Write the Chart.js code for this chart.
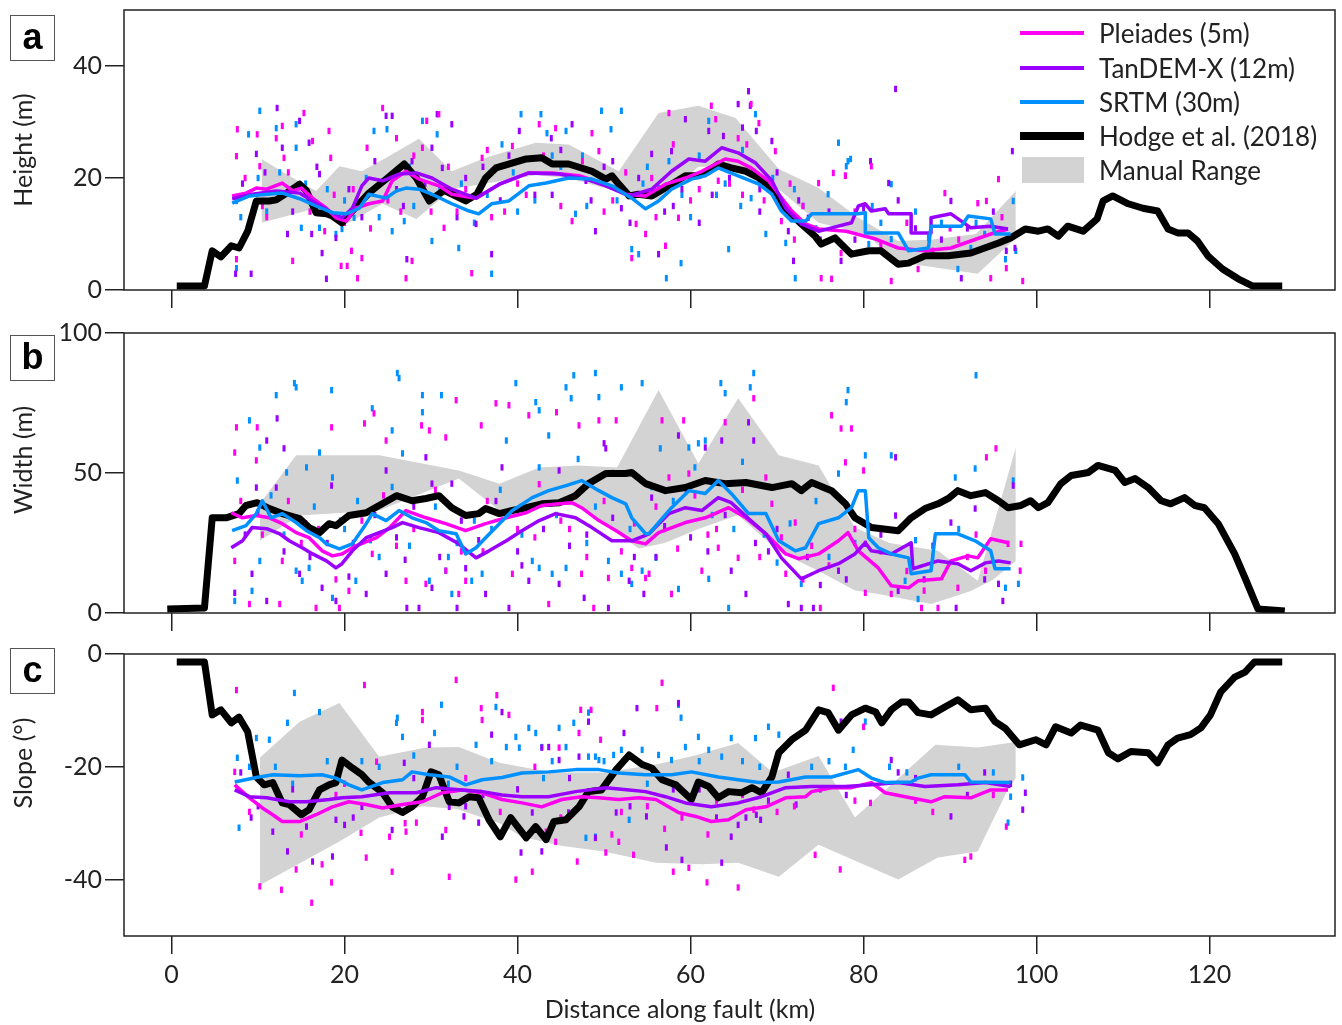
<!DOCTYPE html>
<html>
<head>
<meta charset="utf-8">
<script src="https://cdn.jsdelivr.net/npm/chart.js@4.4.0/dist/chart.umd.min.js"></script>
<style>
  body { margin: 0; background: #fff; }
  #wrap { position: relative; width: 1342px; height: 1025px; font-family: Lato, "Open Sans", sans-serif; color: #222; }
  canvas { position: absolute; left: 0; }
  .tag { position: absolute; left: 10px; width: 43px; height: 44px; border: 1.5px solid #555;
         font: bold 36px "Liberation Sans", Arial, sans-serif; text-align: center; line-height: 42px; color: #000; }
  .ytitle { position: absolute; font-size: 25px; white-space: nowrap; transform: translate(-50%, -50%) rotate(-90deg); }
  .xtitle { position: absolute; font-size: 25px; white-space: nowrap; transform: translate(-50%, -50%); }
  .leg { position: absolute; left: 1020px; font-size: 26px; }
  .leg span { position: absolute; left: 79px; top: -16px; white-space: nowrap; }
  .leg i { position: absolute; left: 0; width: 64px; }
</style>
</head>
<body>
<div id="wrap">
  <canvas id="panelA" width="1342" height="320" style="top:0"></canvas>
  <canvas id="panelB" width="1342" height="320" style="top:320px"></canvas>
  <canvas id="panelC" width="1342" height="385" style="top:640px"></canvas>

  <div class="tag" style="top:15px">a</div>
  <div class="tag" style="top:335px">b</div>
  <div class="tag" style="top:648px">c</div>

  <div class="ytitle" style="left:22px; top:150px">Height (m)</div>
  <div class="ytitle" style="left:22px; top:460px">Width (m)</div>
  <div class="ytitle" style="left:22px; top:763px">Slope (°)</div>
  <div class="xtitle" style="left:680px; top:1008px">Distance along fault (km)</div>

  <div class="leg" style="top:33px"><i style="height:4px; top:-2px; background:#ff00f0"></i><span>Pleiades (5m)</span></div>
  <div class="leg" style="top:68px"><i style="height:4px; top:-2px; background:#9a00ff"></i><span>TanDEM-X (12m)</span></div>
  <div class="leg" style="top:102px"><i style="height:4px; top:-2px; background:#0090ff"></i><span>SRTM (30m)</span></div>
  <div class="leg" style="top:136px"><i style="height:8px; top:-4px; background:#000"></i><span>Hodge et al. (2018)</span></div>
  <div class="leg" style="top:170px"><i style="height:26px; top:-13px; left:2px; width:62px; background:#d3d3d3"></i><span>Manual Range</span></div>
</div>

<script>
// distance along fault (km) -> value, one list per series

const xTicks = [0, 20, 40, 60, 80, 100, 120];
const heightTicks = [0, 20, 40];
const widthTicks = [0, 50, 100];
const slopeTicks = [0, -20, -40];

// ---- height (m) ----
const hodgeHeight = [[0.6,0.7],[3.8,0.7],[4.7,7.0],[5.7,5.9],[6.9,7.9],[7.8,7.5],[8.8,10.5],[9.8,15.9],[11.3,15.9],[12.1,16.1],[13.3,17.3],[14.8,18.9],[15.6,17.7],[16.7,13.8],[17.9,13.6],[18.6,13.2],[19.7,12.0],[20.9,14.1],[22.8,17.3],[24.8,19.8],[26.9,22.5],[28.3,20.0],[29.8,15.9],[31.5,17.8],[34,15.9],[35.3,17.1],[36.3,20],[37.5,21.8],[41,23.4],[42.8,23.6],[44,22.5],[45.9,22.5],[48.6,21.2],[50.2,19.8],[50.9,20.4],[51.7,18.9],[52.9,16.8],[54,17.1],[55.5,16.8],[57.8,18.9],[59.4,20.4],[60.9,20.4],[62.1,21.2],[63.2,22.5],[64.7,21.8],[66.4,21.2],[67.9,20],[69.4,17.7],[71,14.6],[72.8,11.8],[74.4,9.6],[75.1,8.2],[76.7,9.3],[78.6,6.4],[80.6,7],[82,7],[84,4.6],[85.2,4.8],[87.1,6.1],[89.8,6.1],[92.4,6.6],[95.6,8.4],[97,9.3],[98.7,10.9],[100.2,10.5],[101.3,10.9],[102.5,9.6],[103.6,11.4],[105.4,10.5],[107,12.7],[107.7,15.9],[108.8,16.8],[110.6,15.4],[112.3,14.6],[114,14.1],[115.2,10.9],[116.3,10.2],[117.5,10.2],[118.6,8.75],[119.8,6.1],[121.5,3.75],[123.3,2],[125,0.7],[128.4,0.7]];
const pleiadesHeight = [[7,16.8],[8.6,17.3],[9.8,18.2],[11,18],[12.8,19.1],[14,17.7],[15,18.2],[16.3,16.4],[17.9,14.6],[19,12.9],[20.2,12.3],[21.3,14.6],[22.8,15.4],[24.4,15.9],[25.5,19.5],[27.1,21.2],[28.6,19.8],[30.9,18.6],[32.4,17.1],[35.2,16.4],[37.9,18.9],[41.3,20.9],[44,20.9],[47.1,20.4],[50.2,18.9],[52.5,17.1],[54.8,16.8],[57.1,18.9],[59.4,20],[61.3,21.2],[64,23.4],[65.5,23],[67,21.8],[69,19.5],[70.2,17.1],[71.7,14.1],[73.3,11.8],[74.8,10.9],[78,10.5],[81.4,9.1],[84,7.5],[87.1,7],[90.1,7.5],[92.4,8.75],[94.7,10],[96.7,10.9]];
const tandemHeight = [[7,16.3],[9.3,17.1],[12.1,17.7],[14.8,17.3],[16.3,15.9],[18.2,14.1],[19.7,12.9],[20.9,14.6],[22,18.6],[22.8,20],[24.4,19.5],[26.3,20.7],[28.3,20.9],[30.1,20],[32.4,18],[35.2,16.4],[37.9,18.9],[41.3,20.9],[44.8,20.7],[47.9,19.8],[50.2,18.6],[52.9,16.8],[55.5,18],[57.8,21.2],[59.8,23.4],[61.7,23],[63.6,25.4],[65.5,24.5],[67.5,22.7],[69.4,19.5],[71,14.6],[72.8,11.8],[74.8,10.5],[76.3,11.1],[78.6,12],[79.4,15],[80.2,15.4],[80.9,14.1],[82.5,14.5],[82.9,13.6],[85.5,13.6],[85.5,10.2],[87.8,10.2],[87.8,12.9],[90.1,13.6],[91.3,12.3],[92.4,11.1],[94.7,11.4],[96.7,10.9]];
const srtmHeight = [[7,15.5],[9,16.8],[11,17.1],[12.8,17.3],[14.8,16.3],[16.7,15],[18.6,13.8],[20.2,13.6],[21.7,14.6],[22.8,17.1],[24.8,16.4],[26,17.7],[27.1,18.2],[28.6,18],[30.1,17.1],[32.4,15.4],[34.4,14.1],[35.5,13.6],[37,15.4],[39,15.9],[41.3,18.6],[43.3,19.1],[45.9,20],[48.6,19.8],[50.9,18.6],[53.2,16.4],[54.8,14.5],[56.3,15.9],[57.8,18],[60.1,19.8],[61.7,20.4],[63.2,21.8],[65.5,20.4],[67.9,18.9],[69.4,17.1],[70.5,14.1],[71.7,12.3],[73.3,12.3],[74,13.6],[76.7,13.6],[79.4,13.6],[80.2,13.8],[80.2,10.2],[84,10.2],[85.2,7],[87.5,7.5],[87.8,11.4],[91.3,11.4],[92.1,13.2],[94.7,12.7],[95.2,10],[97,10]];
const rangeHeightUpper = [[10.4,23.4],[13.6,20.4],[16.7,17.7],[19.4,22.1],[22,21.2],[24.8,23.6],[28.6,27],[32.4,21.2],[36.3,23.6],[42.1,26.3],[45.9,26],[51.7,21.2],[56.3,31.6],[60.9,32.9],[65.2,30.7],[70.2,21.6],[74.8,18.2],[79.4,12.9],[84,8.75],[88,9],[93,10],[97.6,17.7]];
const rangeHeightLower = [[10.4,12],[16.7,14.6],[20.2,11.8],[24.4,15.4],[28.3,12.7],[32.4,18],[36.3,19],[42.1,20.5],[45.9,20],[51.7,17.5],[56.3,16],[60.9,22],[65.2,22],[70.2,18],[74.8,12],[80.2,10],[84,5],[93.2,2.9],[97.6,9.3]];
const pleiadesHeightDots = [[7.6,28.7],[7.5,23.9],[7.5,5.5],[9.9,27.8],[10.2,22.1],[12.1,27.1],[12.8,29.3],[13,23.6],[14,5.2],[15.3,31.6],[16.3,26.6],[17.7,10.5],[18.2,28.4],[18.4,23.6],[19.6,4.3],[20.3,4.3],[20.8,7],[21.5,2.1],[22,5.7],[22.6,25.4],[24.4,32.5],[26,27.1],[27.1,2.1],[27.8,5.2],[29.5,30.2],[30.9,31.4],[29,25.4],[31.5,11.1],[34.7,3],[35.9,23.6],[39.4,25.7],[42.5,29.6],[44.4,28.9],[46.3,12.3],[48.6,28],[49.4,24.8],[53.2,5.7],[53.7,11.8],[54.8,10],[57.5,31.6],[57.1,7.9],[58.6,12.9],[62.4,32.9],[62.9,30.5],[63.2,19.5],[65.5,27.1],[67,33.2],[67.9,29.8],[69.8,24.8],[70.5,12.3],[73.3,11.1],[75.1,2.1],[76.3,2],[76.5,20.9],[77.9,20.4],[77.4,6.6],[74.8,19.1],[80.9,22.1],[83.2,1.6],[86.3,3.75],[89.4,17.3],[93.2,15.5],[94.2,15.9],[95.6,19.8],[94.7,2.1],[98.4,1.6],[96.5,3.9],[11,13],[20,12],[25,16],[33,14],[37,13],[40,19],[45,15],[50,14],[56,13],[60,16],[66,17],[72,9],[82,8],[88,7],[91,9],[8.5,20],[10.5,15],[13.5,21],[16,14],[18.8,17],[21,18],[23,11],[26.5,14],[28,24],[30,14],[32,22],[34,18],[36.5,25],[38.5,14],[41,17],[43,24],[47.5,23],[51,16],[52.5,21],[55.5,20],[58,26],[61,18],[64.5,19],[66.5,26],[68.5,16],[71.5,19],[73,15],[79,14],[85,12],[90,11],[96,13]];
const tandemHeightDots = [[7.4,2.9],[9.2,2.9],[9.8,24.3],[12.2,32.5],[12.8,25.4],[14.8,30.2],[15.9,26.3],[17.1,20.7],[17.4,6.6],[17.9,2],[24.8,31.1],[25.5,31.1],[27.2,5.5],[27.8,23],[30.7,31.4],[31.3,21.8],[13.4,10],[16.2,10],[19,9.3],[30.1,25.4],[32.4,29.6],[35.2,11.8],[37,6.4],[40.2,28.4],[43.9,27.1],[46.3,29.6],[47.9,19.5],[49,10.5],[52,14.6],[55.5,24.3],[56.3,6.4],[57.8,24.8],[59.4,30.5],[60.9,20.4],[62.1,28.4],[63.8,27.5],[65.5,33.2],[66.7,35.5],[66.9,32.9],[67.6,28.4],[69.4,26.6],[71.3,10.5],[73.6,12.9],[77.4,5.2],[80,14.6],[80.8,23],[77.9,20.4],[82.9,19.1],[90.1,15.9],[91.3,2.1],[96.5,7],[97.5,7.5],[71.9,5.2],[97.2,24.8],[83.7,35.9],[22,13],[26,18],[34,20],[38,16],[44,17],[50,22],[53,12],[58,15],[61,12],[68,14],[75,9],[86,11],[92,11],[8.2,19],[10.8,21],[14,14],[16.8,22],[20.5,18],[23.5,23],[26.8,15],[29.3,19],[33,13],[36,22],[39,24],[42,17],[45,25],[48.5,16],[51,23],[54,20],[57,14],[59,18],[62.5,17],[64.5,20],[66,29],[68,18],[70,21],[72.5,16],[76,14],[79,9],[84,16],[89,9],[95,14]];
const srtmHeightDots = [[7.5,15.9],[7.5,3.9],[8.9,27.8],[10.2,32],[12.1,28.9],[14.4,29.6],[14.4,25.4],[15,11.1],[17.1,11.1],[19,10],[19.7,10.9],[21.1,12.9],[23.4,28.4],[24.9,28.7],[25.5,10.5],[26.9,12.3],[29,30.2],[30.1,8.75],[30.7,27.8],[33.2,7.5],[37,2.9],[38.2,26],[40.4,31.4],[42.7,31.4],[43.4,28],[45.6,28.4],[46.7,13.6],[49.7,32],[50.8,28.7],[52,32],[53.2,7.3],[54,6.4],[56.3,18.2],[57.2,2.1],[58.9,4.8],[62.1,30.2],[64.4,7.3],[67,16.4],[67.5,31.4],[68.7,10],[71,8.4],[72.1,2.1],[77.1,26.3],[78,22.1],[78.5,23.4],[78.2,23],[75.9,17.1],[83.2,18.9],[80.6,8.2],[83.2,9.1],[87.5,9.3],[90.9,3.75],[92.4,7.5],[96.4,5.5],[97.3,15.9],[97.6,7],[11,14],[20,16],[28,15],[35,12],[40,14],[44,24],[48,15],[55,22],[60,13],[63,17],[66,25],[73,15],[82,12],[89,12],[94,10],[8,13],[10,20],[12.5,21],[15.5,19],[18,18],[22.5,20],[24,13],[27.5,22],[31,18],[33.5,19],[36.5,17],[39.5,21],[42,16],[45,22],[47.5,24],[51.5,16],[54.5,19],[57.5,23],[59,17],[61,24],[64,19],[65.8,15],[69.5,20],[72,18],[74.5,11],[81,15],[86,14],[93,12]];

// ---- width (m) ----
const hodgeWidth = [[-0.5,1.4],[3.8,1.8],[4.7,34],[6.3,34],[7.8,35.5],[8.6,38.4],[9.9,39.4],[11.3,37.3],[12.8,35.5],[14.8,33.7],[15.9,30.5],[17.1,28.7],[18.2,31.9],[19,31.2],[20.5,34.8],[22.5,35.8],[24,38.4],[26,41.9],[27.8,40.1],[29.4,40.9],[30.9,41.9],[32.4,37.6],[34,34.8],[35.5,35.5],[36.3,37.3],[37.9,35.5],[39.4,36.6],[41,37.6],[42.8,39],[44.8,39.4],[46.7,41.9],[48.2,46.2],[50.2,49.8],[52.5,49.8],[53.2,50.2],[54.8,46.2],[57.1,43.7],[59.4,44.8],[61.7,47.3],[64,46.2],[66.4,46.6],[69.4,44.8],[71.7,46.2],[72.8,43.7],[74,46.6],[76.3,43.7],[77.9,39],[79,34],[80.9,30.5],[84,29.4],[85.5,34],[87.1,37.3],[88.6,39],[89.8,40.9],[90.9,43.7],[92.4,41.9],[94.1,43],[95.6,40.1],[96.7,37.6],[98.2,38.4],[99.3,40.1],[100.2,37.6],[101.3,39.4],[102.8,46.2],[104,49.1],[106,50.2],[107.1,52.7],[109.1,50.9],[110.2,46.6],[111.4,48],[112.9,44.8],[114.4,40.1],[115.5,39],[117.1,41.2],[118.3,38.4],[119.4,37.6],[121,31.9],[122.9,21.1],[124.1,12.5],[125.6,1.4],[128.7,0.7]];
const pleiadesWidth = [[6.9,35.8],[8.2,34],[9.8,34.8],[11.3,34],[12.8,31.9],[14.4,28.7],[15.9,26.9],[17.4,22.2],[18.6,20.4],[19.7,21.1],[21.3,24],[23.7,26.9],[25.2,30.5],[27.1,36.6],[29.4,34],[31.7,31.9],[34,29.4],[36.3,31.9],[38.7,34],[41,35.8],[42.8,38.4],[44.8,39],[46.3,39.4],[47.4,37.6],[49.4,33],[51.4,29.4],[53.2,25.8],[54.8,24.7],[56.3,28.7],[59.4,32.3],[61.7,34],[64.4,37.6],[66.4,34],[68.7,28.3],[71,21.1],[72.5,19.4],[74.8,21.1],[77.1,25.8],[78.2,28.7],[79.4,22.2],[81.7,16.1],[83.2,9.7],[85.2,9],[86.3,11.5],[89,12.2],[90.1,18.6],[92.1,20.4],[93.2,19.7],[94.7,26.5],[96.7,25.1]];
const tandemWidth = [[6.9,23.3],[8.2,25.8],[9.3,30.5],[11,30.1],[12.5,28.3],[13.6,25.8],[15.1,23.3],[16.3,21.1],[17.9,18.6],[19,16.1],[19.7,17.6],[20.9,22.2],[22.5,26.9],[24,28.7],[25.5,30.5],[26.7,32.3],[28.6,30.5],[30.9,28.7],[33.2,24.7],[35.2,19.7],[36.7,22.2],[38.7,25.8],[40.5,29.4],[42.5,33],[44.4,35.5],[46.7,34],[48.6,30.5],[50.9,25.8],[53.2,25.8],[55.2,28.3],[57.5,35.5],[59.4,37.6],[61.3,36.6],[63.2,41.2],[64.7,39.4],[66.7,33.7],[68.7,28.3],[70.5,19.7],[72.8,12.2],[74.8,15.1],[77.1,17.6],[79,21.1],[80.2,25.1],[80.9,22.2],[83.2,21.1],[85.5,25.1],[85.7,15.8],[88.6,18.6],[90.9,17.6],[92.4,15.1],[94.1,17.9],[95.6,18.6],[97,17.9]];
const srtmWidth = [[7,29.4],[8.6,31.2],[9.8,35.5],[10.5,40.1],[11.5,34],[12.8,35.5],[14.4,32.3],[15.6,29.4],[17.1,26.9],[17.9,24.7],[19.4,22.9],[20.9,24.7],[22.5,31.9],[23.2,35.5],[24.8,33],[26.3,36.6],[27.8,34],[29.4,32.3],[30.9,29.4],[32.9,28.3],[34,21.1],[35.2,23.3],[36.3,26.9],[37.9,31.9],[39.4,36.6],[41.7,41.2],[43.6,43.7],[45.6,45.5],[47.4,47.3],[49.4,43.7],[50.9,41.2],[52.5,39],[53.2,34],[54.8,28.3],[55.2,28.3],[57.8,37.6],[59.8,43.7],[61.7,42.7],[63.2,47.3],[64.7,42.7],[66.7,35.5],[68.7,35.5],[70.2,25.8],[72.1,22.2],[73.3,23.3],[74.8,31.9],[77.1,34],[78.6,37.6],[79.4,43.7],[80.2,43.7],[80.6,26.9],[81.7,23.3],[83.2,21.1],[85.2,19.7],[85.5,14],[87.8,15.1],[88.3,28.3],[90.9,28.3],[92.9,25.8],[94.7,22.2],[95.2,15.8],[97,15.8]];
const rangeWidthUpper = [[10.2,39],[14.4,56.3],[24,56.3],[33.2,50.9],[37.9,46.2],[42.5,52],[47.1,52.7],[51.5,52],[56.3,79.6],[60.9,53.4],[65.5,76.7],[70.2,56.3],[74.8,52.7],[79,30.5],[83,25],[88.6,22.2],[93.2,11.5],[97.6,59.1]];
const rangeWidthLower = [[10.2,25.8],[14.8,34.8],[24,36.6],[33.2,48],[37.9,36.6],[42.5,40],[47.1,38],[54,23],[57,25],[60.9,30],[65.5,35],[70.2,22],[74.8,15],[79,8],[81.7,6.8],[87.8,3.2],[92.4,7.9],[95,12],[97.6,18.6]];
const pleiadesWidthDots = [[7.3,57.3],[7.5,66.3],[9.9,66.3],[9.8,54.5],[18.5,66.3],[22.3,67.7],[23.4,71.3],[24.8,61.6],[28.9,67],[29.8,65.2],[31.7,62.7],[32.9,76],[35.8,67],[37.5,74.9],[39,74.2],[41.3,70.6],[44.5,71.7],[47.1,67],[49.4,68.8],[51.4,68.8],[7.3,18.6],[9,3.2],[12.8,18.6],[12.5,3.2],[16.7,1.8],[19.4,1.8],[20.5,7.9],[23.2,21.1],[27.1,11.5],[29.4,10.4],[31.7,15.1],[33.2,6.8],[34,11.5],[39.4,14],[43.6,3.2],[47.4,14],[48.8,1.8],[50.5,12.5],[53.2,16.1],[54.8,12.5],[56.7,68.8],[59.2,68.8],[64,68.1],[67.3,76.7],[76.3,70.6],[77.4,65.9],[78.6,65.9],[77.9,53.8],[80,50.9],[95.3,58.8],[94.2,55.6],[57.5,48.4],[59.8,49.8],[68.7,48.4],[69.4,39],[72.1,32.3],[55.2,14],[57.8,6.8],[61.3,15.1],[63.2,23.3],[65.5,19.7],[71,14],[75,1.8],[80.2,7.2],[83.2,6.8],[86.7,1.8],[88.6,1.8],[90.9,9],[94.1,15.1],[96.7,24.7],[98.1,15.1],[98.2,24.7],[15,25],[26,24],[36,22],[42,27],[46,30],[52,22],[62,28],[74,24],[85,15],[92,20],[8,40],[10.5,28],[13.5,40],[17,30],[19,12],[22,33],[24.5,42],[28,30],[30.5,44],[33.5,22],[36.5,40],[40,30],[42.5,46],[45,33],[48,20],[50,40],[53.5,32],[56,38],[58.5,23],[60.5,42],[63,30],[66,44],[68,20],[70.5,27],[73,12],[76,17],[79,30],[82,22],[87,8],[93,28]];
const tandemWidthDots = [[12.2,69.5],[11,61.6],[13,58.8],[9.8,44.8],[12.1,44.8],[18.5,45.5],[24.8,50.9],[29.4,55.6],[30.1,46.2],[32.4,46.2],[38.2,52],[44.8,50.9],[50,60.6],[50.2,58.8],[7.3,7.2],[9.3,14],[11,4.3],[14.8,14],[17.4,9],[19,4.3],[22.5,6.8],[24.8,14],[27.2,1.8],[28.6,1.8],[30.1,9],[33,1.8],[36.3,6.8],[39,1.8],[41.3,11.5],[44.8,10.4],[47.7,5.4],[50.5,1.8],[52.9,11.5],[54.6,6.8],[58.6,63.4],[61.7,59.1],[63.6,61.6],[66.7,68.1],[67.3,61.6],[55.5,41.2],[64.7,15.1],[66.4,6.8],[71.3,3.2],[72.8,1.8],[74.2,1.8],[83.7,55.6],[83.7,34.8],[90.1,32.3],[92.9,37.3],[97.3,45.5],[96.1,4.3],[95.6,10.4],[90.7,1.8],[84,7.9],[77.1,15.1],[80.2,24.7],[16,20],[21,25],[27,19],[34,16],[40,22],[46,24],[56,20],[60,27],[69,22],[75,10],[87,12],[8.5,28],[10,36],[13,22],[15.5,32],[18,25],[20.5,13],[23.5,35],[26,27],[28,38],[31,20],[33.5,33],[35.5,26],[37.5,40],[40.5,17],[43,30],[45.5,40],[48,28],[51,34],[53.5,20],[57,31],[59.5,44],[62,22],[64,35],[67.5,25],[70,30],[73.5,20],[78,12],[82,28],[88,24],[94,12]];
const srtmWidthDots = [[9,68.8],[12.1,77.8],[14.2,82.1],[14.4,80.6],[10.2,59.1],[7.6,47.3],[13.3,50.2],[15.6,52],[17.1,57.3],[18.5,79.6],[18.6,48.4],[14.4,15.1],[15.1,11.5],[15.9,16.1],[18.6,5.4],[21.3,11.5],[23.2,73.1],[25.5,65.2],[26.1,85.7],[26.3,83.9],[26.7,57],[29,77.8],[29,71.7],[31.2,77.8],[29.8,11.5],[31.7,15.1],[32.4,6.8],[34.7,11.5],[35.9,14],[38.7,61.6],[39.8,82.1],[42.1,75.3],[42.5,72.4],[43.6,63.4],[45.6,80.6],[46.5,84.9],[46.2,76.7],[49,85.7],[49.4,77.1],[52,80.6],[54.4,82.1],[41.7,18.6],[42.5,16.1],[44,14],[45.6,16.1],[50.5,18.6],[52,14],[53.2,10.4],[54.4,15.1],[7.3,4.3],[9.3,7.9],[10.2,18.6],[56.5,58.8],[63.5,82.1],[64,78.5],[66.9,80.6],[67.3,85.7],[59.8,59.1],[60.9,60.6],[61.7,61.6],[78.2,79.6],[78,75.3],[80.2,56.3],[83.2,56.3],[93,84.9],[92.9,51.6],[90.6,48.4],[77.1,49.8],[64.4,1.8],[62.1,12.2],[58.6,8.6],[56,19.7],[72.8,10.4],[84.8,11.5],[86.3,5],[96.4,9],[97.9,10.4],[97.3,47.3],[20,30],[24,20],[33,25],[37,30],[48,25],[57,30],[65,30],[70,18],[76,20],[88,20],[8,36],[11.5,42],[13,28],[16.5,38],[19.5,33],[21.5,40],[23,26],[25.5,45],[27.5,24],[30.5,38],[32,20],[35,33],[38,44],[40.5,28],[42.5,52],[44.5,35],[47,55],[49,38],[51,50],[53,30],[55.5,45],[58,40],[60.5,52],[62.5,35],[66,54],[68.5,28],[71.5,32],[74.5,40],[79,25],[86,26],[91,30]];

// ---- slope (degrees) ----
const hodgeSlope = [[0.6,-1.4],[3.8,-1.4],[4.7,-10.8],[5.7,-9.9],[6.9,-12.2],[7.8,-11.2],[8.8,-13.8],[9.8,-21.8],[10.7,-23.2],[11.7,-22.8],[12.8,-26.4],[13.6,-26.7],[15,-28.5],[15.9,-27.6],[17.1,-24.1],[18.2,-23.2],[19,-22.8],[19.7,-18.8],[20.9,-20.2],[22,-21.4],[22.8,-22.7],[24.4,-24.6],[25.5,-27.1],[26.7,-28.1],[27.8,-27.1],[29,-25.3],[30,-20.9],[30.9,-21.4],[32.1,-26.2],[33.2,-26.4],[34.4,-25.3],[35.5,-25.5],[36.7,-29.4],[38,-32.4],[39.2,-29],[41,-32.6],[42.1,-30.6],[43.3,-32.9],[44.2,-29.7],[45.6,-29.4],[47.1,-27.1],[48.2,-24.4],[49.7,-24.1],[51.4,-20.5],[52.9,-17.9],[54.4,-19.6],[55.5,-20.2],[56.7,-22.3],[58.3,-23.2],[60.1,-25.8],[60.9,-22.7],[62.1,-23.5],[63.2,-25.5],[64.4,-24.4],[65.9,-24.6],[67.1,-23.7],[68.2,-24.6],[69.4,-21.8],[70.2,-17.5],[71.7,-15.2],[73.3,-13.5],[74.8,-9.9],[75.9,-10.4],[77.1,-13.5],[78.6,-10.8],[80.2,-9.6],[81.4,-10.3],[82.1,-12.2],[83.2,-9.9],[84.4,-8.5],[85.2,-8.5],[86.3,-10.4],[87.8,-10.8],[89.4,-9.4],[90.9,-8.1],[92.4,-9.9],[94.1,-9.6],[95.2,-12],[96.4,-13.2],[98,-16.1],[99.9,-15.2],[101.1,-16.1],[102.2,-12.9],[104,-14],[105.1,-12.6],[107.1,-13.5],[108.3,-17.5],[109.4,-18.6],[110.9,-17.3],[112.9,-17.5],[114,-19.3],[115.2,-16.1],[116.3,-14.9],[117.8,-14.3],[119,-13.1],[120.1,-10.8],[121.3,-6.7],[122.9,-4.1],[124.1,-3.2],[125.2,-1.4],[128.4,-1.4]];
const pleiadesSlope = [[7.3,-23.2],[9,-25.5],[10.5,-27.3],[11.7,-28.5],[12.8,-29.7],[14.8,-29.7],[16.7,-28.5],[18.6,-27.1],[20.5,-26.2],[22.5,-26.7],[24.4,-27.3],[26.7,-26.7],[29,-26.2],[31.3,-24.6],[33.6,-24.1],[35.9,-24.6],[38.2,-25.8],[40.5,-26.4],[42.8,-27.1],[45.1,-25.8],[47.4,-25.3],[49.4,-25.5],[51.7,-25.8],[54,-25.5],[56,-25.8],[58.6,-28.1],[60.6,-28.8],[62.4,-29.7],[64.4,-29.4],[66.4,-27.6],[68.7,-27.1],[71,-25.5],[73.3,-25.3],[74,-24.4],[76.3,-23.7],[78.6,-23.7],[80.9,-22.8],[82.5,-24.6],[84.8,-25.3],[87.8,-26.2],[89.4,-25.3],[92.4,-25.5],[94.7,-24.1],[96.7,-24.1]];
const tandemSlope = [[7.3,-24.1],[9,-25.3],[11,-25.5],[13.6,-26.2],[15.6,-26.2],[18.2,-25.8],[19.7,-25.5],[22,-25.3],[25.2,-24.6],[28.3,-24.6],[30.6,-23.7],[33.6,-24.1],[35.9,-24.4],[38.2,-25],[40.5,-25.3],[43.6,-25.3],[46.7,-24.4],[50.2,-23.7],[52.9,-24.1],[54.8,-24.4],[57.1,-25.3],[59.4,-26.4],[62.4,-27.1],[65.5,-26.4],[68.2,-25.3],[71,-23.7],[74,-23.5],[77.9,-23.5],[80.9,-23.2],[84,-22.8],[87.1,-23.5],[90.9,-23.2],[94.1,-22.8],[97,-23.5]];
const srtmSlope = [[7.3,-22.7],[9.8,-21.9],[11.7,-21.4],[14.8,-21.6],[17.4,-21.4],[19,-22],[20.5,-23.2],[22,-24.1],[24.4,-22.8],[26.7,-22.3],[27.8,-20.9],[29.8,-21.4],[32.1,-21.8],[34,-23.2],[35.9,-22.3],[38.2,-21.9],[40.5,-21.1],[43.6,-20.9],[46.7,-20.5],[49.4,-20.5],[51.7,-21.1],[54.8,-21.4],[57.8,-21.4],[60.1,-20.9],[63.2,-21.8],[65.5,-22.3],[67.9,-22.8],[70.2,-22.7],[73.3,-21.8],[76.3,-21.8],[79.4,-20.5],[80.9,-22],[82.5,-22.8],[85.5,-22.7],[86.3,-22],[87.8,-21.4],[91.7,-21.4],[92.4,-22.7],[97,-22.8]];
const rangeSlopeUpper = [[10.2,-18.4],[14.8,-12],[19.4,-8.7],[24,-18.2],[29.4,-16.6],[33.2,-16.5],[37.9,-19.3],[44,-21],[50,-21],[56,-19.6],[60.5,-18],[65.5,-15.8],[69.5,-21],[74.8,-18.1],[79,-29],[88.3,-16.1],[93.2,-16.6],[97.6,-15.6]];
const rangeSlopeLower = [[10.2,-41],[19.7,-33],[24,-29],[29,-27],[33,-27.5],[37.9,-30],[40.5,-32.4],[45,-34],[50,-35],[56,-37],[61.3,-37.3],[65.5,-37],[70.2,-39.5],[74.8,-33.8],[84,-40],[88.6,-36.1],[93.2,-35],[96.5,-24.6],[97.6,-22]];
const pleiadesSlopeDots = [[7.5,-6.4],[7.3,-20.9],[10.2,-41.2],[12.7,-41.8],[16.2,-44.1],[17.4,-37.3],[14.4,-38.2],[18.5,-40.5],[22.3,-5.5],[23.7,-19.1],[21.9,-31.7],[22.5,-36.1],[25.5,-38.6],[27.1,-31.5],[29,-10.3],[29,-11.7],[31.7,-31.2],[32.1,-39.5],[32.9,-4.6],[35.8,-9.6],[35.9,-11.7],[37.6,-7.3],[39,-10.8],[39.8,-40],[41.7,-38.6],[44.8,-16.6],[47.3,-9.9],[48.5,-9.9],[46.9,-36.8],[43.3,-31.5],[44.4,-33.3],[25.2,-32.4],[28.3,-29.9],[47.1,-14],[49.6,-15.2],[50.2,-35.2],[50.9,-32],[51.7,-33.3],[53.4,-35.6],[56.1,-9.6],[56.7,-5.1],[58,-38.6],[59,-29],[59.8,-37.9],[61.9,-40.5],[65.5,-41.4],[67.3,-27.6],[74.4,-35.6],[77.3,-38.2],[76.5,-6],[80,-12.9],[80.8,-26.4],[91.7,-36.5],[92.4,-35.9],[96.5,-30.6],[12,-24],[20,-23],[34,-22],[42,-20],[55,-27],[63,-26],[70,-28],[86,-26],[95,-25],[9,-28],[15,-32],[19,-25],[27,-30],[31,-22],[38,-28],[45,-29],[52,-28],[57,-31],[62,-32],[66,-25],[72,-27],[79,-26],[88,-28]];
const tandemSlopeDots = [[9.2,-29],[11.7,-31.5],[13.4,-35],[16.3,-36.8],[18.6,-35.9],[20,-30.3],[25.5,-31.2],[26.9,-19.3],[29.8,-16.1],[31.3,-32.4],[38.2,-10.3],[37,-14.3],[40.4,-35.2],[42.8,-35],[42.8,-16.6],[43.6,-16.5],[44.8,-18.8],[47.1,-18.2],[49,-32.6],[33.8,-28.8],[35.5,-29.9],[41.7,-28.1],[45.9,-28.1],[32.1,-27.1],[26.3,-27.6],[22,-27.1],[15.6,-30.6],[19,-29.4],[48.2,-12],[51.4,-28.1],[52.3,-14],[53.8,-9.6],[54.9,-28.8],[57.2,-34.3],[58.6,-8.7],[59,-36.5],[63.6,-37],[64.7,-32.4],[65.5,-30.3],[66.4,-29],[67.6,-28.5],[68.1,-29.4],[71.3,-21.4],[72.2,-26.7],[77.4,-12],[83.2,-18.8],[90.1,-28.8],[98.4,-27.6],[98.7,-24.6],[8,-21],[24,-24],[36,-25],[61,-24],[75,-24],[86,-22],[94,-21],[97,-23],[10,-27],[14,-24],[21,-29],[28,-22],[34,-27],[40,-24],[46,-22],[53,-27],[58,-24],[63,-29],[69,-26],[78,-25],[84,-21],[92,-25]];
const srtmSlopeDots = [[7.6,-18.4],[7.8,-30.8],[9.8,-14.9],[11.3,-15.2],[13.4,-12.2],[14.2,-6.9],[17.1,-10.3],[26,-12.2],[26.1,-11.3],[26.7,-14.7],[30.4,-14],[31.2,-9],[35.2,-16.1],[37.5,-9.4],[38.7,-16.5],[39.8,-14.7],[41.3,-13.1],[42.1,-14],[44.8,-13.1],[46.5,-12.2],[48.2,-10.4],[47.9,-32.6],[40.2,-16.6],[42.8,-16.5],[45.6,-16.5],[49,-18.2],[48.2,-18.2],[49.4,-18.8],[51.1,-17.9],[52,-17],[54.4,-17],[56.3,-17.9],[57.8,-18.8],[58.6,-9],[58.9,-11.3],[59.4,-16.5],[60.9,-14.7],[62.1,-17],[63.6,-18.2],[64.7,-14.9],[67.5,-14.9],[69,-12.9],[70.2,-14.3],[49,-32.4],[52.9,-29.4],[77.9,-20],[78.8,-17],[80.2,-12],[96.7,-29.9],[97,-25.3],[98.4,-21.9],[12,-20],[22,-19],[33,-20],[44,-19],[66,-19],[74,-20],[85,-21],[91,-20],[9,-20],[14,-23],[18,-19],[24,-20],[28,-18],[32,-23],[37,-19],[43,-22],[50,-19],[55,-23],[61,-19],[68,-20],[76,-19],[83,-20],[95,-21]];

const MAGENTA = '#ff00f0';
const PURPLE = '#9a00ff';
const BLUE = '#0090ff';
const BLACK = '#000000';
const GREY = '#d3d3d3';
const INK = '#222222';
const tickFont = { family: 'Lato', size: 25 };

const toXY = arr => arr.map(([x, y]) => ({ x, y }));

function rangeSets(upper, lower) {
  return [
    { data: toXY(upper), borderWidth: 0, pointRadius: 0, fill: '+1', backgroundColor: GREY, order: 10 },
    { data: toXY(lower), borderWidth: 0, pointRadius: 0, fill: false, order: 10 }
  ];
}

function dotSet(arr, color) {
  return {
    data: toXY(arr), showLine: false, pointStyle: 'line', pointRotation: 90,
    pointRadius: 3.2, pointBorderWidth: 3, borderColor: color, pointBorderColor: color, order: 6
  };
}

function lineSet(arr, color, width, order) {
  return {
    data: toXY(arr), borderColor: color, borderWidth: width, pointRadius: 0,
    fill: false, tension: 0, borderJoinStyle: 'round', borderCapStyle: 'butt', order
  };
}

// box around the plotting area
const frame = {
  id: 'frame',
  afterDraw(chart) {
    const { ctx, chartArea: a } = chart;
    ctx.save();
    ctx.strokeStyle = INK;
    ctx.lineWidth = 1.5;
    ctx.strokeRect(a.left, a.top, a.right - a.left, a.bottom - a.top);
    ctx.restore();
  }
};

function makePanel(id, o) {
  return new Chart(document.getElementById(id), {
    type: 'line',
    data: { datasets: o.datasets },
    options: {
      responsive: false,
      animation: false,
      events: [],
      layout: { padding: { top: o.padTop, right: 5, left: 0, bottom: 0 } },
      plugins: { legend: { display: false }, tooltip: { enabled: false } },
      scales: {
        x: {
          type: 'linear', min: -5.5, max: 134.5,
          border: { display: false },
          grid: { drawOnChartArea: false, drawTicks: true, tickLength: 18, color: INK, lineWidth: 1.5 },
          ticks: { display: o.xLabels, font: tickFont, color: INK, padding: 6, maxRotation: 0 },
          afterBuildTicks: s => { s.ticks = xTicks.map(v => ({ value: v })); },
          afterFit: s => { s.height = o.xAxisHeight; s.paddingLeft = 0; s.paddingRight = 0; }
        },
        y: {
          min: o.yMin, max: o.yMax,
          border: { display: false },
          grid: { drawOnChartArea: false, drawTicks: true, tickLength: 19, color: INK, lineWidth: 1.5 },
          ticks: { font: tickFont, color: INK, padding: 3 },
          afterBuildTicks: s => { s.ticks = o.yTicks.map(v => ({ value: v })); },
          afterFit: s => { s.width = 124; s.paddingTop = 0; s.paddingBottom = 0; }
        }
      }
    },
    plugins: [frame]
  });
}

function draw() {
  makePanel('panelA', {
    padTop: 10, xAxisHeight: 30, xLabels: false, yMin: 0, yMax: 50, yTicks: heightTicks,
    datasets: [
      ...rangeSets(rangeHeightUpper, rangeHeightLower),
      dotSet(pleiadesHeightDots, MAGENTA),
      dotSet(tandemHeightDots, PURPLE),
      dotSet(srtmHeightDots, BLUE),
      lineSet(hodgeHeight, BLACK, 7, 4),
      lineSet(pleiadesHeight, MAGENTA, 3.5, 3),
      lineSet(tandemHeight, PURPLE, 3.5, 2),
      lineSet(srtmHeight, BLUE, 3.5, 1)
    ]
  });
  makePanel('panelB', {
    padTop: 13, xAxisHeight: 27, xLabels: false, yMin: 0, yMax: 100, yTicks: widthTicks,
    datasets: [
      ...rangeSets(rangeWidthUpper, rangeWidthLower),
      dotSet(pleiadesWidthDots, MAGENTA),
      dotSet(tandemWidthDots, PURPLE),
      dotSet(srtmWidthDots, BLUE),
      lineSet(hodgeWidth, BLACK, 7, 4),
      lineSet(pleiadesWidth, MAGENTA, 3.5, 3),
      lineSet(tandemWidth, PURPLE, 3.5, 2),
      lineSet(srtmWidth, BLUE, 3.5, 1)
    ]
  });
  makePanel('panelC', {
    padTop: 14, xAxisHeight: 89, xLabels: true, yMin: -50, yMax: 0, yTicks: slopeTicks,
    datasets: [
      ...rangeSets(rangeSlopeUpper, rangeSlopeLower),
      dotSet(pleiadesSlopeDots, MAGENTA),
      dotSet(tandemSlopeDots, PURPLE),
      dotSet(srtmSlopeDots, BLUE),
      lineSet(hodgeSlope, BLACK, 7, 4),
      lineSet(pleiadesSlope, MAGENTA, 3.5, 3),
      lineSet(tandemSlope, PURPLE, 3.5, 2),
      lineSet(srtmSlope, BLUE, 3.5, 1)
    ]
  });
}

document.fonts.load('25px Lato').then(draw, draw);
</script>
</body>
</html>
